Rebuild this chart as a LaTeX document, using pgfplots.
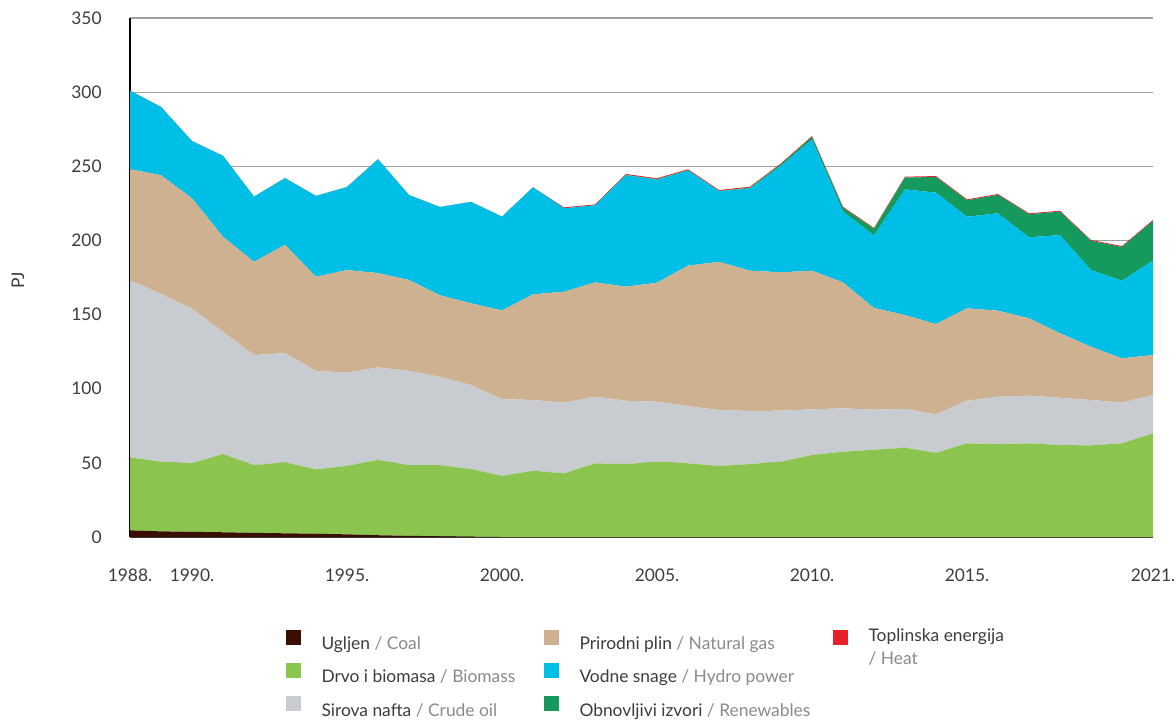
\documentclass[border=0pt]{standalone}
\usepackage{fontspec}
\setmainfont{Lato}
\usepackage{pgfplots}
\usepackage{pgfplotstable}
\pgfplotsset{compat=1.18}
\definecolor{coalc}{HTML}{3A0E00}
\definecolor{bioc}{HTML}{8BC550}
\definecolor{oilc}{HTML}{C8CCD0}
\definecolor{gasc}{HTML}{CDB190}
\definecolor{hydroc}{HTML}{00BFE7}
\definecolor{renc}{HTML}{16995C}
\definecolor{heatc}{HTML}{E8202A}
\definecolor{txtd}{HTML}{3C3C3C}
\definecolor{txtl}{HTML}{8A8A8A}
\definecolor{gridc}{HTML}{A0A0A0}

\pgfplotstableread{
year coal bio oil gas hydro ren heat
1988 4.5 49.2 119.3 75.0 53.0 0 0
1989 3.8 47.0 113.2 80.0 46.0 0 0
1990 3.5 46.2 104.3 74.4 38.6 0 0
1991 3.2 52.8 82.4 64.1 54.5 0 0
1992 2.8 45.7 74.2 62.9 43.9 0 0
1993 2.5 47.9 73.6 73.0 45.0 0 0
1994 2.2 43.4 66.4 63.5 54.5 0 0
1995 1.8 46.2 62.8 69.2 56.0 0 0
1996 1.2 50.8 62.4 63.6 76.7 0 0
1997 0.8 47.7 63.5 61.3 57.3 0 0
1998 0.5 48.0 59.5 55.0 59.5 0 0
1999 0.2 45.7 56.6 55.1 68.4 0 0
2000 0 41.2 51.8 59.8 63.2 0 0
2001 0 44.7 47.7 71.2 72.2 0 0
2002 0 42.9 47.7 74.8 56.3 0 0.6
2003 0 49.7 44.9 77.1 52.0 0 0.6
2004 0 49.2 42.7 76.9 75.1 0.3 0.6
2005 0 50.8 40.4 80.3 69.5 0.3 0.6
2006 0 49.7 38.6 94.7 64.1 0.3 0.6
2007 0 47.9 37.7 100.0 47.5 0.3 0.6
2008 0 49.2 35.8 94.6 55.5 0.5 0.6
2009 0 50.8 34.4 93.3 71.9 1.0 0.6
2010 0 55.3 30.8 93.5 88.4 1.8 0.6
2011 0 57.5 29.3 84.9 47.7 2.7 0.6
2012 0 58.9 26.9 68.7 48.8 4.5 0.6
2013 0 60.2 26.3 63.2 84.7 8.0 0.6
2014 0 56.8 25.9 60.9 88.6 10.6 0.6
2015 0 63.2 28.7 62.3 61.8 11.1 0.6
2016 0 62.7 31.9 58.0 65.7 12.4 0.6
2017 0 63.2 32.1 52.2 54.6 15.6 0.6
2018 0 62.0 31.9 43.5 66.2 15.8 0.6
2019 0 61.8 30.6 35.9 51.7 19.7 0.6
2020 0 63.2 27.4 29.9 52.3 22.8 0.6
2021 0 69.9 25.9 26.9 63.7 26.8 0.6
}\datatable

\begin{document}
\begin{tikzpicture}
\useasboundingbox (-65pt,-91pt) rectangle (523pt,268.5pt);
\begin{axis}[
  at={(0,0)}, anchor=south west,
  scale only axis, width=511.5pt, height=259.5pt,
  xmin=1988, xmax=2021, ymin=0, ymax=350,
  stack plots=y,
  axis x line*=bottom, axis y line*=left,
  x axis line style={-, draw=txtd, line width=0.9pt},
  y axis line style={-, draw=black, line width=0.6pt},
  major tick length=0pt,
  ytick={0,50,...,350},
  ymajorgrids, grid style={draw=gridc, line width=0.6pt},
  xtick={1988,1990,1995,2000,2005,2010,2015,2021},
  xticklabels={1988.,1990.,1995.,2000.,2005.,2010.,2015.,2021.},
  /pgf/number format/assume math mode=true,
  yticklabel style={font=\fontsize{8.7}{10}\selectfont, text=txtd, inner sep=0pt, xshift=-14pt},
  xticklabel style={font=\fontsize{8.7}{10}\selectfont, text=txtd, inner sep=0pt, anchor=north, yshift=-15.5pt},
  ylabel={PJ},
  every axis y label/.style={at={(axis description cs:-0.1095,0.495)}, rotate=90, anchor=center, font=\fontsize{8.7}{10}\selectfont, text=txtd},
  legend columns=3, transpose legend,
  legend cell align=left,
  legend image code/.code={\fill[#1] (0pt,-0.7pt) rectangle (7.5pt,6.8pt);},
  legend style={at={(axis description cs:0.1525,-0.1784)}, anchor=north west, draw=none, fill=none,
    inner sep=0pt, outer sep=0pt, row sep=5.3pt,
    font=\fontsize{8.7}{11}\selectfont, text=txtd,
    nodes={inner sep=0pt},
    /tikz/every odd column/.append style={column sep=10.25pt}},
]
\addplot[fill=coalc, draw=none] table[x=year, y=coal] {\datatable} \closedcycle;
\addlegendentry{\makebox[111.25pt][l]{\strut Ugljen \textcolor{txtl}{/ Coal}}}
\addplot[fill=bioc, draw=none] table[x=year, y=bio] {\datatable} \closedcycle;
\addlegendentry{\makebox[111.25pt][l]{\strut Drvo i biomasa \textcolor{txtl}{/ Biomass}}}
\addplot[fill=oilc, draw=none] table[x=year, y=oil] {\datatable} \closedcycle;
\addlegendentry{\makebox[111.25pt][l]{\strut Sirova nafta \textcolor{txtl}{/ Crude oil}}}
\addplot[fill=gasc, draw=none] table[x=year, y=gas] {\datatable} \closedcycle;
\addlegendentry{\makebox[126.75pt][l]{\strut Prirodni plin \textcolor{txtl}{/ Natural gas}}}
\addplot[fill=hydroc, draw=none] table[x=year, y=hydro] {\datatable} \closedcycle;
\addlegendentry{\makebox[126.75pt][l]{\strut Vodne snage \textcolor{txtl}{/ Hydro power}}}
\addplot[fill=renc, draw=none] table[x=year, y=ren] {\datatable} \closedcycle;
\addlegendentry{\makebox[126.75pt][l]{\strut Obnovljivi izvori \textcolor{txtl}{/ Renewables}}}
\addplot[fill=heatc, draw=none] table[x=year, y=heat] {\datatable} \closedcycle;
\addlegendentry{\smash{\begin{tabular}[t]{@{}l@{}}Toplinska energija\\[0.3pt]\textcolor{txtl}{/ Heat}\end{tabular}}}
\addlegendimage{empty legend}
\addlegendentry{\strut}
\addlegendimage{empty legend}
\addlegendentry{\strut}
\end{axis}
\end{tikzpicture}
\end{document}
